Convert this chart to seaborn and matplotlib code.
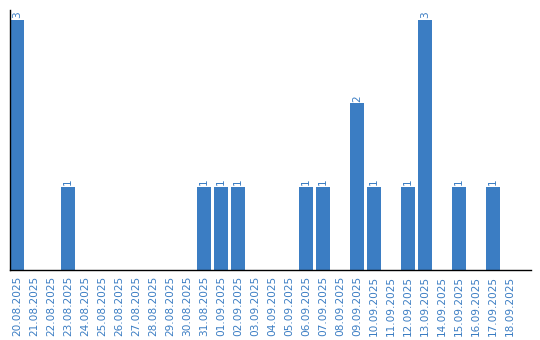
import matplotlib
matplotlib.use("Agg")
import matplotlib.pyplot as plt
import seaborn as sns
import pandas as pd

dates = ["20.08.2025", "21.08.2025", "22.08.2025", "23.08.2025", "24.08.2025",
         "25.08.2025", "26.08.2025", "27.08.2025", "28.08.2025", "29.08.2025",
         "30.08.2025", "31.08.2025", "01.09.2025", "02.09.2025", "03.09.2025",
         "04.09.2025", "05.09.2025", "06.09.2025", "07.09.2025", "08.09.2025",
         "09.09.2025", "10.09.2025", "11.09.2025", "12.09.2025", "13.09.2025",
         "14.09.2025", "15.09.2025", "16.09.2025", "17.09.2025", "18.09.2025"]
counts = [3, 0, 0, 1, 0, 0, 0, 0, 0, 0, 0, 1, 1, 1, 0, 0, 0, 1, 1, 0,
          2, 1, 0, 1, 3, 0, 1, 0, 1, 0]

df = pd.DataFrame({"date": dates, "count": counts})

sns.set_style("white")
plt.rcParams['font.family'] = ['DejaVu Sans']

W, H = 540, 340
fig = plt.figure(figsize=(W / 100, H / 100), dpi=100)
ax = fig.add_axes([10 / W, 70 / H, 521 / W, 260 / H])

blue = "#3b7dc3"
bw = 14 / 17
sns.barplot(data=df, x="date", y="count", color=blue, width=bw,
            saturation=1, ax=ax, order=dates)

for p in ax.patches:
    p.set_x(p.get_x() + bw / 2)
    p.set_edgecolor("none")
ax.set_xlim(0, 521 / 17)
ax.set_ylim(0, 3 * 260 / 250)

ax.set_xticks([i + bw / 2 for i in range(len(dates))])
ax.set_xticklabels(dates, rotation=90, color=blue, fontsize=7.6)
ax.tick_params(axis="x", length=0, pad=4)
ax.set_yticks([])
ax.set_xlabel("")
ax.set_ylabel("")

for i, v in enumerate(counts):
    if v > 0:
        ax.text(i + bw / 2, v + 0.02, str(v), rotation=90, ha="center",
                va="bottom", color=blue, fontsize=7.6)

for s in ["top", "right"]:
    ax.spines[s].set_visible(False)
for s in ["left", "bottom"]:
    ax.spines[s].set_color("black")
    ax.spines[s].set_linewidth(1.0)

fig.savefig("out.png", dpi=100)
